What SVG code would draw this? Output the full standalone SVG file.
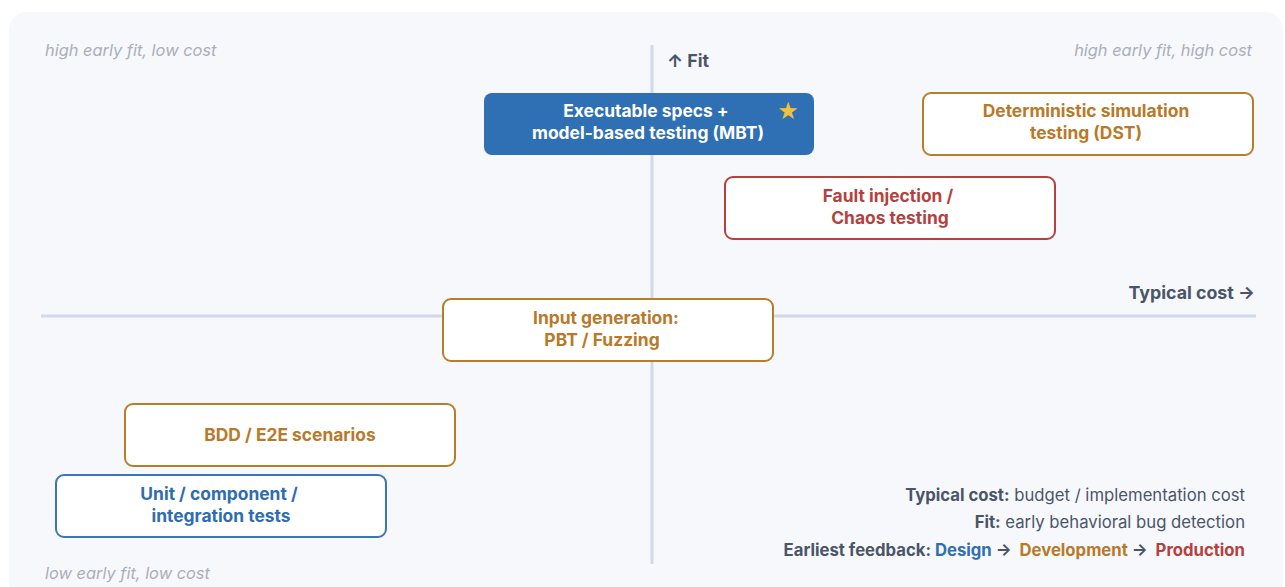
<svg xmlns="http://www.w3.org/2000/svg" width="1285" height="587" viewBox="0 0 1285 587">
<style>
.bg{fill:#f7f8fc}
.axis{stroke:#d0dae8;stroke-width:3}
.corner{font-family:Inter,"Liberation Sans",sans-serif;font-size:16.4px;font-style:italic;fill:#a9afb9}
.axlbl{font-family:Inter,"Liberation Sans",sans-serif;font-size:17.8px;font-weight:700;fill:#4a5568}
.box{fill:#ffffff;stroke-width:2}
.lbl{font-family:Inter,"Liberation Sans",sans-serif;font-size:17.4px;font-weight:700;text-anchor:middle}
.gold{stroke:#b87d2a}.goldt{fill:#b87a28}
.red{stroke:#b5413f}.redt{fill:#b5413f}
.blue{stroke:#3a76b8}.bluet{fill:#2f6cb0}
.leg{font-family:Inter,"Liberation Sans",sans-serif;font-size:16.7px;fill:#4a5568;text-anchor:end}
.b{font-weight:700}
</style>
<rect class="bg" x="9" y="12" width="1274" height="590" rx="18"/>
<g id="axes">
<line class="axis" x1="652" y1="45" x2="652" y2="564"/>
<line class="axis" x1="41" y1="316" x2="1256" y2="316"/>
<text class="axlbl" x="667" y="67">↑ Fit</text>
<text class="axlbl" x="1255" y="299" text-anchor="end">Typical cost →</text>
</g>
<g id="corners">
<text class="corner" x="45" y="56">high early fit, low cost</text>
<text class="corner" x="1252" y="56" text-anchor="end">high early fit, high cost</text>
<text class="corner" x="45" y="579">low early fit, low cost</text>
</g>
<g id="connectors"></g>
<g id="mbt">
<rect x="484" y="93" width="330" height="62" rx="8" fill="#2f6fb3"/>
<text class="lbl" x="646" y="117" fill="#ffffff">Executable specs +</text>
<text class="lbl" x="648" y="139" fill="#ffffff">model-based testing (MBT)</text>
<text x="788" y="119" font-family="DejaVu Sans,sans-serif" font-size="24" fill="#f2c13a" text-anchor="middle">★</text>
</g>
<g id="dst">
<rect class="box gold" x="923" y="93" width="330" height="62" rx="8"/>
<text class="lbl goldt" x="1086" y="117">Deterministic simulation</text>
<text class="lbl goldt" x="1086" y="139">testing (DST)</text>
</g>
<g id="fault">
<rect class="box red" x="725" y="177" width="330" height="62" rx="8"/>
<text class="lbl redt" x="888" y="202">Fault injection /</text>
<text class="lbl redt" x="890" y="224">Chaos testing</text>
</g>
<g id="input">
<rect class="box gold" x="443" y="299" width="330" height="62" rx="8"/>
<text class="lbl goldt" x="606" y="324">Input generation:</text>
<text class="lbl goldt" x="602" y="346">PBT / Fuzzing</text>
</g>
<g id="bdd">
<rect class="box gold" x="125" y="404" width="330" height="62" rx="8"/>
<text class="lbl goldt" x="290" y="441">BDD / E2E scenarios</text>
</g>
<g id="unit">
<rect class="box blue" x="56" y="475" width="330" height="62" rx="8"/>
<text class="lbl bluet" x="219" y="500">Unit / component /</text>
<text class="lbl bluet" x="221" y="522">integration tests</text>
</g>
<g id="legend">
<text class="leg" x="1245" y="501"><tspan class="b">Typical cost:</tspan> budget / implementation cost</text>
<text class="leg" x="1245" y="528"><tspan class="b">Fit:</tspan> early behavioral bug detection</text>
<text class="leg b" x="1245" y="556" xml:space="preserve">Earliest feedback: <tspan fill="#2f6fb3">Design</tspan> →  <tspan fill="#b87a28">Development</tspan> →  <tspan fill="#b5413f">Production</tspan></text>
</g>
</svg>
